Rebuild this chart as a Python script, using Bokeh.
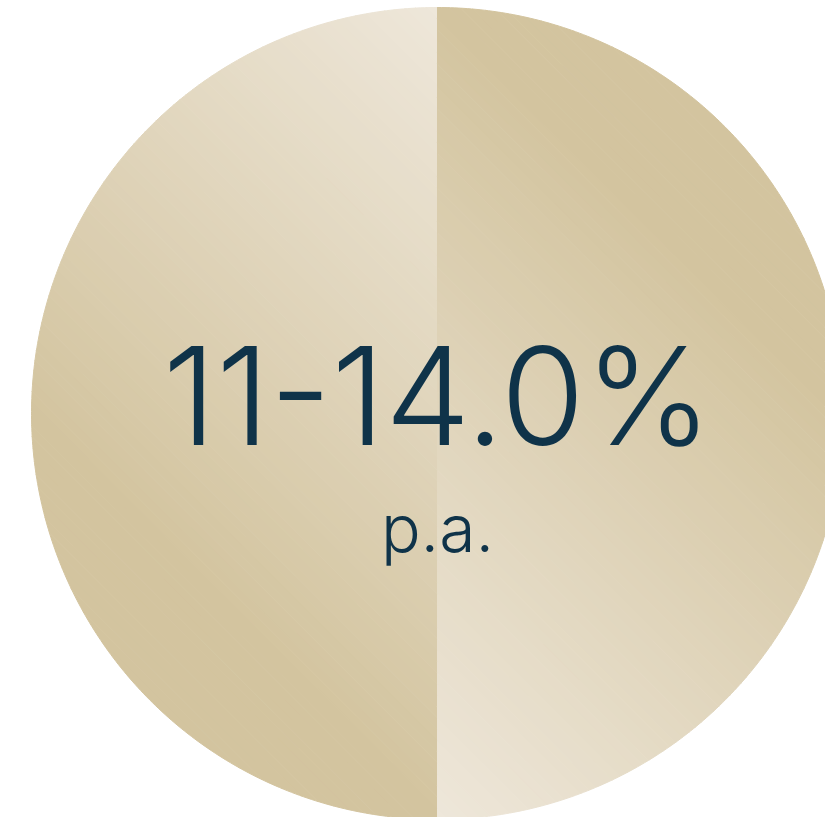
import numpy as np
from bokeh.plotting import figure
from bokeh.models import Range1d, ColumnDataSource
from bokeh.core.properties import value
from bokeh.embed import file_html
from bokeh.resources import INLINE

# ---- data ----
slice_labels = ["A", "B"]
slice_values = [50, 50]
headline = ["11-14.0%"]
subline = ["p.a."]

# ---- style / layout ----
W, H = 825, 817
CX, CY, R = 437.0, 413.0, 406.0
LIGHT = np.array([0xEE, 0xE7, 0xDA], float)
DARK = np.array([0xD3, 0xC4, 0x9F], float)
TEXT_COLOR = "#0f3349"
NBANDS = 90

p = figure(width=W, height=H, x_range=Range1d(0, W), y_range=Range1d(H, 0),
           output_backend="svg", toolbar_location=None, min_border=0)
p.axis.visible = False
p.grid.visible = False
p.outline_line_color = None
p.background_fill_color = "white"
p.border_fill_color = "white"


def pt(a):
    return np.array([CX + R * np.cos(a), CY - R * np.sin(a)])


def clip(poly, n, c, keep_ge):
    out = []
    m = len(poly)
    for i in range(m):
        A, B = poly[i], poly[(i + 1) % m]
        da, db = A @ n - c, B @ n - c
        ina = da >= 0 if keep_ge else da <= 0
        inb = db >= 0 if keep_ge else db <= 0
        if ina:
            out.append(A)
        if ina != inb:
            s = da / (da - db)
            out.append(A + s * (B - A))
    return out


xs, ys, cols = [], [], []
total = sum(slice_values)
start = np.pi / 2
for v in slice_values:
    span = 2 * np.pi * v / total
    end = start + span
    mid = (start + end) / 2
    arc = np.linspace(start, end, 300)
    poly = [np.array([CX, CY])] + [pt(a) for a in arc]
    g = mid + np.pi / 4
    n = np.array([np.cos(g), -np.sin(g)])
    origin = pt(start)
    c0 = origin @ n
    L = R * np.sqrt(2)
    edges = np.linspace(0, 1.25, NBANDS + 1)
    for k in range(NBANDS):
        t0, t1 = edges[k], edges[k + 1]
        q = clip(poly, n, c0 + t0 * L, True)
        if len(q) < 3:
            continue
        if k < NBANDS - 1:
            q = clip(q, n, c0 + t1 * L, False)
        if len(q) < 3:
            continue
        t = min(1.0, (t0 + t1) / 2)
        col = LIGHT + (DARK - LIGHT) * t
        xs.append([float(a[0]) for a in q])
        ys.append([float(a[1]) for a in q])
        cols.append("#%02x%02x%02x" % tuple(int(round(x)) for x in col))
    start = end

src = ColumnDataSource(dict(xs=xs, ys=ys, color=cols))
p.patches("xs", "ys", source=src, fill_color="color", line_color="color", line_width=1)

p.text(x=[437], y=[395], text=headline, text_align="center", text_baseline="alphabetic",
       text_font=value("Inter Light"), text_font_size="136px", text_color=TEXT_COLOR)
p.text(x=[437], y=[527], text=subline, text_align="center", text_baseline="alphabetic",
       text_font=value("Inter Light"), text_font_size="66px", text_color=TEXT_COLOR)

open("out.html", "w").write(file_html(p, INLINE))
